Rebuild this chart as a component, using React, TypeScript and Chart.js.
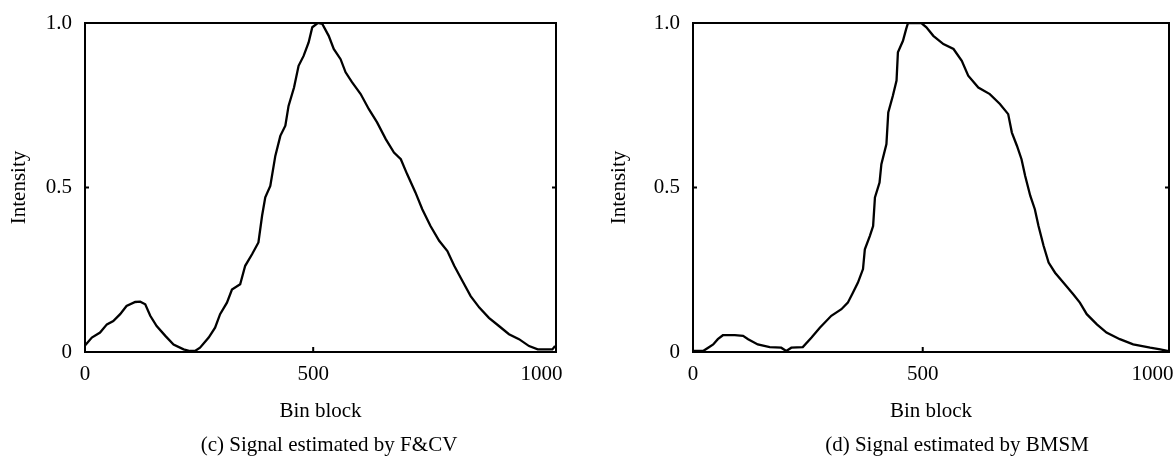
import React, { useEffect, useRef } from 'react';
import { Chart, registerables } from 'chart.js';

Chart.register(...registerables);

// ---- Data ----
const binsC = [0, 15, 33, 48, 62, 77, 91, 110, 121, 132, 143, 157, 176, 194, 216, 230, 241, 252, 271, 285, 296, 311, 322, 340, 351, 366, 380, 388, 395, 406, 417, 428, 439, 446, 458, 468, 479, 490, 498, 510, 520, 534, 545, 560, 571, 585, 604, 622, 640, 659, 677, 692, 706, 724, 739, 757, 776, 794, 809, 827, 845, 864, 885, 907, 929, 951, 973, 992, 1010, 1024, 1030];
const intensityC = [0.02, 0.044, 0.059, 0.084, 0.094, 0.115, 0.14, 0.152, 0.153, 0.145, 0.11, 0.079, 0.049, 0.023, 0.008, 0.003, 0.003, 0.013, 0.044, 0.074, 0.115, 0.15, 0.19, 0.206, 0.262, 0.297, 0.333, 0.414, 0.47, 0.505, 0.596, 0.657, 0.688, 0.748, 0.804, 0.87, 0.9, 0.941, 0.987, 1.0, 0.997, 0.961, 0.921, 0.89, 0.85, 0.82, 0.784, 0.738, 0.698, 0.647, 0.606, 0.586, 0.54, 0.485, 0.434, 0.383, 0.338, 0.307, 0.262, 0.216, 0.17, 0.135, 0.104, 0.079, 0.054, 0.039, 0.018, 0.008, 0.008, 0.008, 0.018];

const binsD = [0, 22, 33, 44, 54, 65, 91, 109, 120, 141, 167, 192, 203, 214, 239, 258, 276, 301, 323, 337, 348, 359, 370, 374, 385, 392, 396, 406, 410, 421, 425, 435, 443, 446, 457, 464, 468, 497, 508, 523, 545, 567, 585, 599, 621, 646, 668, 686, 694, 705, 715, 723, 734, 744, 752, 763, 774, 788, 806, 828, 842, 857, 879, 900, 929, 958, 995, 1017, 1035];
const intensityD = [0.003, 0.003, 0.013, 0.023, 0.039, 0.051, 0.051, 0.049, 0.039, 0.023, 0.015, 0.013, 0.003, 0.013, 0.015, 0.044, 0.074, 0.11, 0.13, 0.15, 0.18, 0.211, 0.252, 0.312, 0.353, 0.383, 0.47, 0.515, 0.571, 0.632, 0.728, 0.779, 0.825, 0.911, 0.946, 0.982, 1.0, 1.0, 0.987, 0.961, 0.936, 0.921, 0.885, 0.84, 0.804, 0.784, 0.754, 0.723, 0.667, 0.627, 0.586, 0.535, 0.475, 0.434, 0.383, 0.323, 0.272, 0.241, 0.211, 0.175, 0.15, 0.115, 0.084, 0.059, 0.039, 0.023, 0.013, 0.008, 0.003];

const xTicks = [0, 500, 1000];
const xTickLabels = ['0', '500', '1000'];
const yTicks = [0, 0.5, 1];
const yTickLabels = ['0', '0.5', '1.0'];

const xTitle = 'Bin block';
const yTitle = 'Intensity';
const captionC = '(c) Signal estimated by F&CV';
const captionD = '(d) Signal estimated by BMSM';

const FONT_FAMILY = '"Liberation Serif", "Times New Roman", Times, serif';
const FONT_SIZE = 21;

const framePlugin = {
  id: 'frameBox',
  afterDatasetsDraw(chart: any) {
    const { ctx, chartArea, scales } = chart;
    const { left, right, top, bottom } = chartArea;
    ctx.save();
    ctx.strokeStyle = '#000';
    ctx.lineWidth = 2;
    ctx.strokeRect(left, top, right - left, bottom - top);
    const ym = scales.y.getPixelForValue(0.5);
    const xm = scales.x.getPixelForValue(500);
    ctx.beginPath();
    ctx.moveTo(left, ym);
    ctx.lineTo(left + 4, ym);
    ctx.moveTo(right, ym);
    ctx.lineTo(right - 4, ym);
    ctx.moveTo(xm, bottom);
    ctx.lineTo(xm, bottom - 5);
    ctx.stroke();
    ctx.restore();
  },
};

type PanelProps = {
  bins: number[];
  values: number[];
  canvasLeft: number;
  canvasWidth: number;
  areaLeft: number;
  areaRight: number;
  xMax: number;
  yTitlePad: number;
};

function Panel(p: PanelProps) {
  const ref = useRef<HTMLCanvasElement | null>(null);
  useEffect(() => {
    if (!ref.current) return;
    const font = { family: FONT_FAMILY, size: FONT_SIZE };
    const chart = new Chart(ref.current, {
      type: 'line',
      data: {
        datasets: [
          {
            data: p.bins.map((b, i) => ({ x: b, y: p.values[i] })),
            borderColor: '#000',
            borderWidth: 2.3,
            pointRadius: 0,
            tension: 0,
            fill: false,
          },
        ],
      },
      options: {
        animation: false,
        responsive: false,
        devicePixelRatio: 1,
        layout: {
          padding: { left: 0, top: 23, right: p.canvasWidth - p.areaRight, bottom: 0 },
        },
        plugins: {
          legend: { display: false },
          tooltip: { enabled: false },
          title: { display: false },
        },
        scales: {
          x: {
            type: 'linear',
            min: 0,
            max: p.xMax,
            grid: { display: false, drawTicks: false },
            border: { display: false },
            afterBuildTicks: (s: any) => {
              s.ticks = xTicks.map((v) => ({ value: v }));
            },
            afterFit: (s: any) => {
              s.height = 457 - 352;
              s.paddingLeft = 0;
              s.paddingRight = 0;
            },
            ticks: {
              font,
              color: '#000',
              padding: 10,
              maxRotation: 0,
              autoSkip: false,
              callback: (_v: any, i: number) => xTickLabels[i],
            },
            title: {
              display: true,
              text: xTitle,
              font,
              color: '#000',
              padding: { top: 0, bottom: 33 },
            },
          },
          y: {
            type: 'linear',
            min: 0,
            max: 1,
            grid: { display: false, drawTicks: false },
            border: { display: false },
            afterBuildTicks: (s: any) => {
              s.ticks = yTicks.map((v) => ({ value: v }));
            },
            afterFit: (s: any) => {
              s.width = p.areaLeft;
              s.paddingTop = 0;
              s.paddingBottom = 0;
            },
            ticks: {
              font,
              color: '#000',
              padding: 13,
              autoSkip: false,
              callback: (_v: any, i: number) => yTickLabels[i],
            },
            title: {
              display: true,
              text: yTitle,
              font,
              color: '#000',
              padding: { top: p.yTitlePad, bottom: 0 },
            },
          },
        },
      },
      plugins: [framePlugin],
    } as any);
    return () => chart.destroy();
  }, []);
  return (
    <canvas
      ref={ref}
      width={p.canvasWidth}
      height={457}
      style={{ position: 'absolute', left: p.canvasLeft, top: 0, width: p.canvasWidth, height: 457 }}
    />
  );
}

function Caption({ text, center }: { text: string; center: number }) {
  return (
    <div
      style={{
        position: 'absolute',
        left: center - 200,
        width: 400,
        top: 432,
        textAlign: 'center',
        fontFamily: FONT_FAMILY,
        fontSize: FONT_SIZE,
        lineHeight: '25px',
        color: '#000',
        whiteSpace: 'nowrap',
      }}
    >
      {text}
    </div>
  );
}

export default function App() {
  return (
    <div style={{ position: 'absolute', left: 0, top: 0, width: 1175, height: 457, background: '#fff', overflow: 'hidden' }}>
      <Panel bins={binsC} values={intensityC} canvasLeft={0} canvasWidth={590} areaLeft={85} areaRight={556} xMax={1032} yTitlePad={7} />
      <Panel bins={binsD} values={intensityD} canvasLeft={590} canvasWidth={585} areaLeft={103} areaRight={579} xMax={1036} yTitlePad={17} />
      <Caption text={captionC} center={329} />
      <Caption text={captionD} center={957} />
    </div>
  );
}
